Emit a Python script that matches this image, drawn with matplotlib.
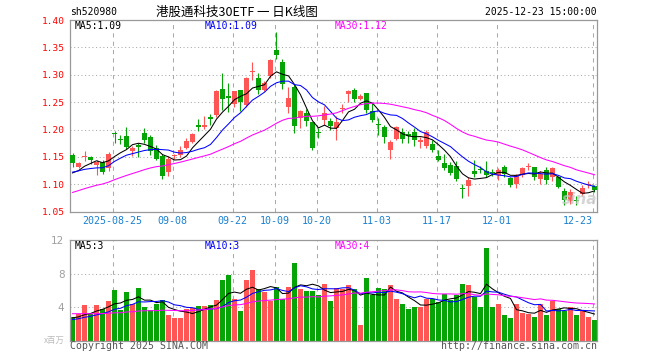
import numpy as np
import matplotlib
matplotlib.use('Agg')
import matplotlib.pyplot as plt
from matplotlib.transforms import blended_transform_factory

# daily candles 2025-08-14 .. 2025-12-23 (88 sessions)
opens = [1.154, 1.131, 1.149, 1.150, 1.136, 1.140, 1.129, 1.193, 1.183, 1.188,
         1.161, 1.171, 1.194, 1.186, 1.166, 1.152, 1.123, 1.151, 1.153, 1.167,
         1.177, 1.209, 1.204, 1.222, 1.227, 1.274, 1.261, 1.246, 1.273, 1.244,
         1.305, 1.295, 1.273, 1.298, 1.345, 1.324, 1.242, 1.277, 1.221, 1.231,
         1.213, 1.194, 1.217, 1.216, 1.202, 1.237, 1.264, 1.273, 1.256, 1.266,
         1.233, 1.211, 1.205, 1.162, 1.183, 1.196, 1.191, 1.195, 1.178, 1.170,
         1.173, 1.152, 1.139, 1.135, 1.134, 1.093, 1.097, 1.125, 1.128, 1.124,
         1.123, 1.117, 1.131, 1.111, 1.101, 1.117, 1.132, 1.131, 1.109, 1.127,
         1.114, 1.113, 1.087, 1.070, 1.072, 1.083, 1.098, 1.097]
highs = [1.157, 1.140, 1.160, 1.152, 1.144, 1.144, 1.159, 1.197, 1.190, 1.204,
         1.170, 1.175, 1.203, 1.190, 1.172, 1.156, 1.151, 1.156, 1.170, 1.184,
         1.193, 1.220, 1.224, 1.229, 1.272, 1.304, 1.285, 1.271, 1.273, 1.296,
         1.324, 1.304, 1.288, 1.328, 1.378, 1.329, 1.277, 1.283, 1.236, 1.238,
         1.214, 1.202, 1.243, 1.221, 1.224, 1.246, 1.272, 1.276, 1.265, 1.267,
         1.248, 1.221, 1.209, 1.180, 1.207, 1.202, 1.197, 1.202, 1.187, 1.199,
         1.180, 1.163, 1.155, 1.140, 1.142, 1.101, 1.113, 1.144, 1.133, 1.142,
         1.128, 1.130, 1.136, 1.113, 1.118, 1.131, 1.139, 1.132, 1.124, 1.131,
         1.132, 1.115, 1.094, 1.092, 1.079, 1.098, 1.106, 1.099]
lows = [1.131, 1.130, 1.143, 1.137, 1.117, 1.118, 1.124, 1.176, 1.173, 1.165,
        1.152, 1.150, 1.175, 1.153, 1.144, 1.109, 1.116, 1.147, 1.150, 1.165,
        1.175, 1.198, 1.201, 1.209, 1.222, 1.236, 1.232, 1.242, 1.234, 1.242,
        1.291, 1.264, 1.270, 1.295, 1.328, 1.274, 1.231, 1.194, 1.203, 1.206,
        1.163, 1.185, 1.208, 1.200, 1.181, 1.230, 1.250, 1.251, 1.254, 1.231,
        1.214, 1.190, 1.176, 1.147, 1.181, 1.175, 1.176, 1.170, 1.167, 1.166,
        1.159, 1.143, 1.127, 1.117, 1.106, 1.075, 1.078, 1.114, 1.121, 1.113,
        1.115, 1.108, 1.114, 1.095, 1.094, 1.114, 1.127, 1.107, 1.100, 1.100,
        1.106, 1.093, 1.063, 1.064, 1.063, 1.078, 1.094, 1.086]
closes = [1.139, 1.139, 1.152, 1.145, 1.140, 1.122, 1.155, 1.191, 1.180, 1.169,
          1.167, 1.168, 1.181, 1.160, 1.146, 1.116, 1.147, 1.153, 1.163, 1.179,
          1.191, 1.204, 1.209, 1.220, 1.271, 1.255, 1.257, 1.270, 1.250, 1.295,
          1.307, 1.272, 1.285, 1.327, 1.336, 1.284, 1.258, 1.206, 1.234, 1.215,
          1.167, 1.193, 1.231, 1.207, 1.213, 1.239, 1.271, 1.255, 1.262, 1.235,
          1.218, 1.209, 1.187, 1.178, 1.205, 1.182, 1.189, 1.180, 1.180, 1.195,
          1.162, 1.145, 1.130, 1.120, 1.110, 1.091, 1.108, 1.119, 1.126, 1.117,
          1.120, 1.127, 1.119, 1.099, 1.117, 1.130, 1.134, 1.114, 1.118, 1.107,
          1.129, 1.096, 1.072, 1.086, 1.070, 1.094, 1.101, 1.089]
# volume, millions
volumes = [2.8, 3.2, 4.2, 3.2, 4.2, 3.8, 4.7, 6.0, 3.7, 5.8,
           4.3, 6.3, 4.0, 3.7, 4.3, 4.8, 3.0, 2.7, 2.7, 3.8,
           3.9, 4.1, 4.1, 4.2, 4.8, 7.2, 7.8, 4.9, 3.5, 7.2,
           8.4, 6.1, 5.8, 4.7, 6.4, 5.0, 6.4, 9.2, 6.2, 5.9,
           5.9, 5.4, 6.7, 4.7, 6.3, 6.2, 6.6, 6.1, 1.9, 7.5,
           5.4, 6.3, 6.1, 6.6, 5.0, 4.4, 3.8, 4.0, 4.0, 4.9,
           5.0, 4.6, 5.6, 4.8, 5.4, 6.8, 6.6, 5.2, 4.0, 11.0,
           4.0, 4.3, 3.1, 2.7, 4.3, 3.3, 3.2, 2.8, 4.4, 3.1,
           4.7, 3.8, 3.5, 4.0, 3.0, 3.5, 2.8, 2.5]

# estimated sessions before the window (only feed the moving averages)
prior_closes = [1.040, 1.045, 1.050, 1.048, 1.055, 1.052, 1.058, 1.060, 1.055, 1.062,
                1.065, 1.070, 1.068, 1.075, 1.080, 1.078, 1.085, 1.088, 1.095, 1.105,
                1.115, 1.125, 1.130, 1.128, 1.120, 1.118, 1.112, 1.120, 1.115]
prior_volumes = [3.2, 3.8, 4.1, 3.6, 3.3, 3.9, 4.2, 3.5, 3.1, 3.4,
                 3.7, 3.0, 3.6, 3.9, 3.3, 3.5, 3.2, 3.8, 3.4, 3.5,
                 2.2, 2.5, 2.1, 2.4, 2.3, 2.6, 2.9, 2.5, 2.7]

date_labels = ['2025-08-25', '09-08', '09-22', '10-09', '10-20', '11-03', '11-17', '12-01', '12-23']
date_idx = [7, 17, 27, 34, 41, 51, 61, 71, 87]

RED = '#ff5555'
GREEN = '#06a406'
GRID = '#aaaaaa'
MONO = 'DejaVu Sans Mono'


def moving_avg(prior, vals, n):
    full = np.concatenate([prior, vals])
    ma = np.convolve(full, np.ones(n) / n, mode='valid')
    return ma[-len(vals):]


o = np.array(opens); h = np.array(highs); l = np.array(lows); c = np.array(closes)
v = np.array(volumes)
x = np.arange(len(c))
col = np.where(c >= o, RED, GREEN)

fig = plt.figure(figsize=(6.6, 3.6), dpi=100)
ax = fig.add_axes([70/660, 1-211.7/360, 527/660, 191.7/360])
ax2 = fig.add_axes([70/660, 1-340.5/360, 527/660, 100.5/360])

for a in (ax, ax2):
    a.set_xlim(-0.417, 87.42)
    for s in a.spines.values():
        s.set_color('#999999')
        s.set_linewidth(0.9)
    a.set_xticks([])
    a.tick_params(axis='y', length=0, pad=4)
    for d in date_idx:
        a.axvline(d - 0.3, color=GRID, lw=0.75, ls=(0, (4, 4)), zorder=0)

# price panel
ax.set_ylim(1.05, 1.40)
yt = [1.05, 1.10, 1.15, 1.20, 1.25, 1.30, 1.35, 1.40]
for y in yt[1:-1]:
    ax.axhline(y, color=GRID, lw=0.75, ls=(0, (1, 2.5)), zorder=0)
ax.set_yticks(yt)
ax.set_yticklabels(['%.2f' % y for y in yt], color='red', family=MONO, fontsize=6.8)

ax.vlines(x, l, h, colors=col, lw=0.8, zorder=2)
body = np.maximum(np.abs(c - o), 0.0018)
ax.bar(x, body, bottom=np.minimum(o, c), width=0.83, color=col, lw=0, zorder=3)

ax.plot(x, moving_avg(prior_closes, c, 5), color='black', lw=0.75, zorder=4)
ax.plot(x, moving_avg(prior_closes, c, 10), color='#0000ff', lw=0.75, zorder=4)
ax.plot(x, moving_avg(prior_closes, c, 30), color='#ff00ff', lw=0.75, zorder=4)
ax.text(84.6, 1.073, 'sina', color='#c8c8c8', alpha=0.75, fontsize=11,
        style='italic', weight='bold', ha='center', va='center', zorder=5)

# volume panel
ax2.set_ylim(0, 12)
for y in (4, 8):
    ax2.axhline(y, color=GRID, lw=0.75, ls=(0, (1, 2.5)), zorder=0)
ax2.set_yticks([4, 8, 12])
ax2.set_yticklabels(['4', '8', '12'], color='#a0a0a0', fontsize=7.5)
ax2.bar(x, v, width=0.83, color=col, lw=0, zorder=2)
ax2.plot(x, moving_avg(prior_volumes, v, 5), color='black', lw=0.75, zorder=3)
ax2.plot(x, moving_avg(prior_volumes, v, 10), color='#0000ff', lw=0.75, zorder=3)
ax2.plot(x, moving_avg(prior_volumes, v, 30), color='#ff00ff', lw=0.75, zorder=3)

# date labels under price panel
tr = blended_transform_factory(ax.transData, fig.transFigure)
for lab, d in zip(date_labels, date_idx):
    ha = 'right' if d == date_idx[-1] else 'center'
    xx = d - 0.3 if ha == 'center' else d - 0.2
    fig.text(xx, 1-221/360, lab, transform=tr, ha=ha, va='center',
             color='#1a80d0', family=MONO, fontsize=7.2)

# header
fig.text(70/660, 1-12/360, 'sh520980', family=MONO, fontsize=7, va='center')
fig.text(237/660, 1-12/360, '港股通科技30ETF 一 日K线图', family=['Noto Sans CJK SC', 'DejaVu Sans'],
         fontsize=9, ha='center', va='center')
fig.text(597/660, 1-12/360, '2025-12-23 15:00:00', family=MONO, fontsize=7,
         ha='right', va='center')

for txt, xp, cc in [('MA5:1.09', 75, 'black'), ('MA10:1.09', 205, '#0000ff'), ('MA30:1.12', 335, '#ff00ff')]:
    fig.text(xp/660, 1-26/360, txt, family=MONO, fontsize=7, color=cc, va='center')
for txt, xp, cc in [('MA5:3', 75, 'black'), ('MA10:3', 205, '#0000ff'), ('MA30:4', 335, '#ff00ff')]:
    fig.text(xp/660, 1-246/360, txt, family=MONO, fontsize=7, color=cc, va='center')

fig.text(65/660, 1-340/360, 'x百万', family=['Noto Sans CJK SC', 'DejaVu Sans'],
         fontsize=6, color='#bbbbbb', ha='right', va='center')
fig.text(70/660, 1-346/360, 'Copyright 2025 SINA.COM', family=MONO, fontsize=7.1,
         color='#555555', va='center')
fig.text(597/660, 1-346/360, 'http://finance.sina.com.cn', family=MONO, fontsize=7.1,
         color='#555555', ha='right', va='center')

fig.savefig('out.png', dpi=100)
